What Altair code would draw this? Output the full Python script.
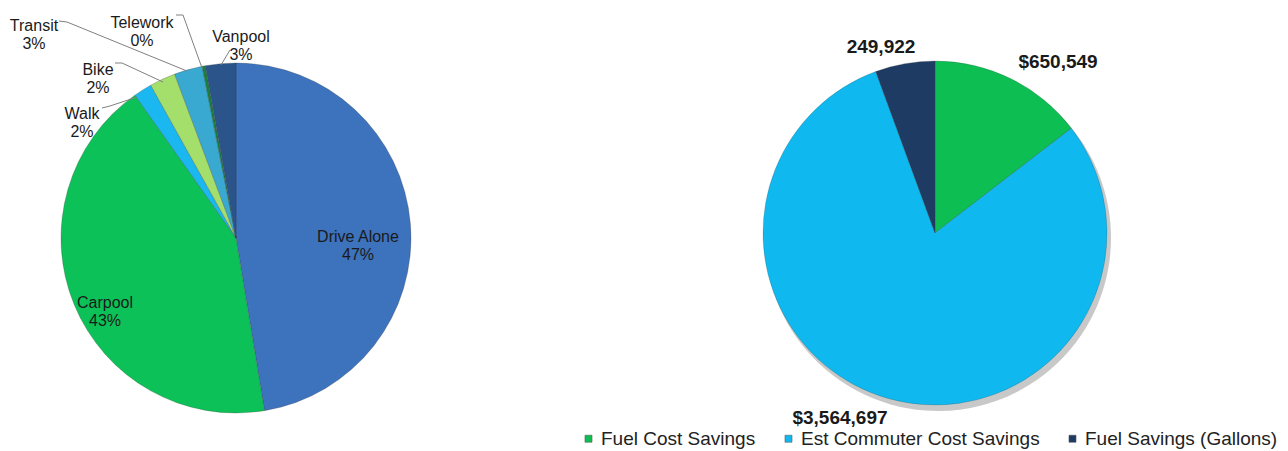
import altair as alt
import pandas as pd

# ---------------- data ----------------
modes = ["Drive Alone", "Carpool", "Walk", "Bike", "Transit", "Telework", "Vanpool"]
mode_share = [47.4, 42.8, 1.7, 2.4, 2.6, 0.3, 2.8]
mode_colors = ["#3D72BD", "#0CC157", "#1AB7F0", "#A4DF6C", "#3AA9D2", "#1C7F3E", "#2A548A"]

savings_cats = ["Fuel Cost Savings", "Est Commuter Cost Savings", "Fuel Savings (Gallons)"]
savings_vals = [650549, 3564697, 249922]
savings_prefix = ["$", "$", ""]
savings_colors = ["#0DBE52", "#0FB9EF", "#1E3B64"]

# ---------------- layout (pixels in chart area) ----------------
L_CX, L_CY, L_R = 228, 230, 175
R_CX, R_CY, R_R = 927, 225, 172
mode_label_x = [350, 97, 74, 90, 26, 134, 233]
mode_label_y = [229, 295, 106, 62, 18, 15, 29]
sav_label_x = [1050, 832, 873]
sav_label_y = [54, 410, 39]
leader_segments = [  # x, y, x2, y2
    (51, 13, 59, 14), (59, 14, 179, 63),          # Transit
    (168, 7, 175, 7), (175, 7, 194, 60),          # Telework
    (222, 42, 213, 57),                           # Vanpool
    (107, 55, 114, 55), (114, 55, 155, 74),       # Bike
    (94, 100, 102, 98), (102, 98, 129, 89),       # Walk
]

FONT = "Liberation Sans"

left_df = pd.DataFrame({
    "mode": modes,
    "share": mode_share,
    "idx": list(range(len(modes))),
    "label": [f"{m}\n{round(v)}%" for m, v in zip(modes, mode_share)],
    "lx": mode_label_x,
    "ly": mode_label_y,
})

right_df = pd.DataFrame({
    "cat": savings_cats,
    "val": savings_vals,
    "idx": list(range(len(savings_cats))),
    "label": [p + f"{v:,}" for p, v in zip(savings_prefix, savings_vals)],
    "lx": sav_label_x,
    "ly": sav_label_y,
})

lead_df = pd.DataFrame(leader_segments, columns=["x", "y", "x2", "y2"])

left_pie = alt.Chart(left_df).mark_arc(
    stroke="#333333", strokeWidth=0.5, strokeOpacity=0.5
).encode(
    theta=alt.Theta("share:Q", stack=True),
    order=alt.Order("idx:Q"),
    color=alt.Color("mode:N", scale=alt.Scale(domain=modes, range=mode_colors), legend=None),
    x=alt.value(L_CX), y=alt.value(L_CY), radius=alt.value(L_R),
)

left_text = alt.Chart(left_df).mark_text(
    font=FONT, fontSize=16, color="#1a1a1a", lineBreak="\n", align="center",
    baseline="middle", lineHeight=18,
).encode(
    x=alt.X("lx:Q", scale=None, axis=None),
    y=alt.Y("ly:Q", scale=None, axis=None),
    text="label:N",
)

leaders = alt.Chart(lead_df).mark_rule(color="#808080", strokeWidth=1).encode(
    x=alt.X("x:Q", scale=None, axis=None),
    y=alt.Y("y:Q", scale=None, axis=None),
    x2="x2:Q", y2="y2:Q",
)

right_shadow = alt.Chart(right_df).mark_arc(color="#9a9a9a", opacity=0.55).encode(
    theta=alt.Theta("val:Q", stack=True),
    order=alt.Order("idx:Q"),
    x=alt.value(R_CX + 3), y=alt.value(R_CY + 5), radius=alt.value(R_R + 1),
)

right_pie = alt.Chart(right_df).mark_arc(
    stroke="#333333", strokeWidth=0.5, strokeOpacity=0.4
).encode(
    theta=alt.Theta("val:Q", stack=True),
    order=alt.Order("idx:Q"),
    color=alt.Color(
        "cat:N",
        scale=alt.Scale(domain=savings_cats, range=savings_colors),
        legend=alt.Legend(
            title=None, orient="none", legendX=571, legendY=421,
            direction="horizontal", symbolType="square", symbolSize=50,
            labelFont=FONT, labelFontSize=19, labelColor="#222222",
            columnPadding=23, labelOffset=3, padding=0, labelLimit=400,
            symbolStrokeWidth=0.5, symbolStrokeColor="#555555",
        ),
    ),
    x=alt.value(R_CX), y=alt.value(R_CY), radius=alt.value(R_R),
)

right_text = alt.Chart(right_df).mark_text(
    font=FONT, fontSize=19, fontWeight="bold", color="#1a1a1a",
    align="center", baseline="middle",
).encode(
    x=alt.X("lx:Q", scale=None, axis=None),
    y=alt.Y("ly:Q", scale=None, axis=None),
    text="label:N",
)

chart = alt.layer(
    left_pie, leaders, left_text, right_shadow, right_pie, right_text
).resolve_scale(
    theta="independent", color="independent"
).properties(
    width=1272, height=443, padding=0, autosize=alt.AutoSizeParams(type="none")
).configure(font=FONT).configure_view(stroke=None)

chart.save("out.html", embed_options={"renderer": "svg", "actions": False})
